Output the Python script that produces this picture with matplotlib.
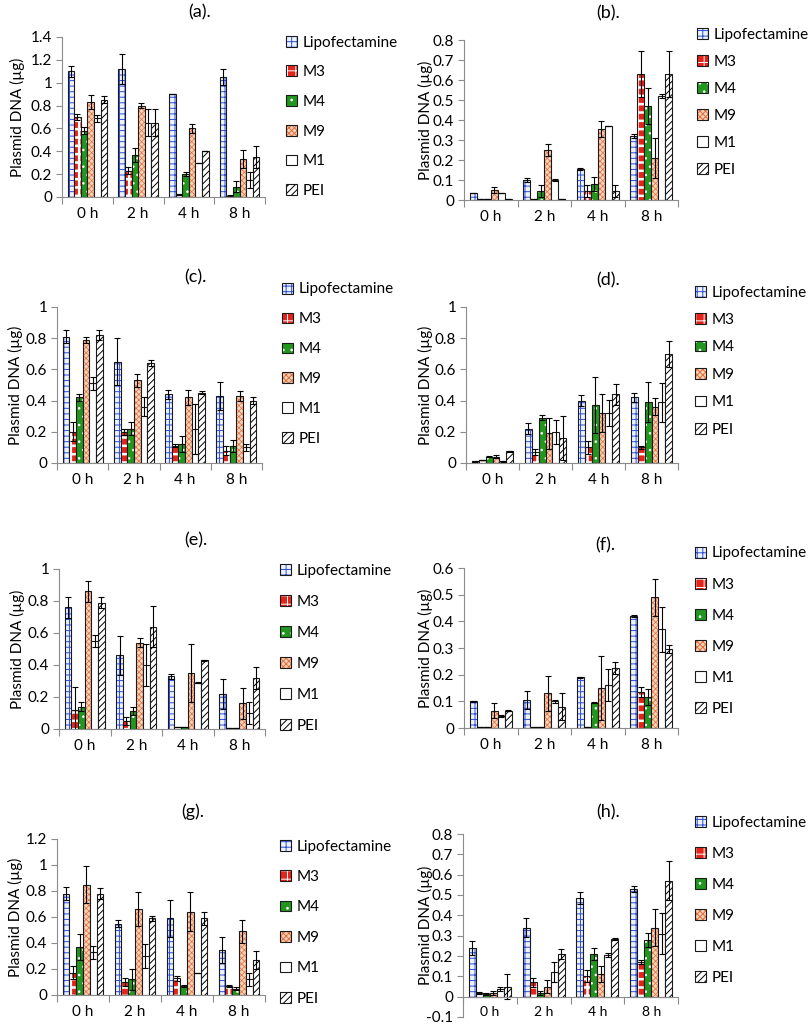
import numpy as np
import matplotlib.pyplot as plt

plt.rcParams['font.family'] = ['Lato', 'DejaVu Sans']
plt.rcParams['hatch.linewidth'] = 0.7

times = ['0 h', '2 h', '4 h', '8 h']
series = ['Lipofectamine', 'M3', 'M4', 'M9', 'M1', 'PEI']

# rows follow `series`, columns follow `times`
a_vals = [[1.10, 1.12, 0.90, 1.05], [0.70, 0.23, 0.02, 0.01], [0.58, 0.37, 0.20, 0.09],
          [0.83, 0.80, 0.60, 0.33], [0.69, 0.65, 0.30, 0.15], [0.85, 0.65, 0.40, 0.35]]
a_err = [[0.05, 0.13, 0.0, 0.07], [0.03, 0.03, 0.005, 0.01], [0.03, 0.06, 0.02, 0.05],
         [0.06, 0.02, 0.04, 0.08], [0.03, 0.12, 0.0, 0.07], [0.03, 0.12, 0.0, 0.10]]

b_vals = [[0.035, 0.10, 0.155, 0.32], [0.005, 0.003, 0.045, 0.63], [0.007, 0.045, 0.08, 0.47],
          [0.05, 0.25, 0.355, 0.21], [0.035, 0.10, 0.37, 0.52], [0.005, 0.003, 0.045, 0.63]]
b_err = [[0.0, 0.008, 0.003, 0.01], [0.0, 0.0, 0.03, 0.115], [0.0, 0.03, 0.035, 0.09],
         [0.015, 0.03, 0.04, 0.10], [0.0, 0.005, 0.002, 0.01], [0.0, 0.0, 0.03, 0.115]]

c_vals = [[0.81, 0.65, 0.44, 0.43], [0.20, 0.20, 0.11, 0.08], [0.42, 0.22, 0.12, 0.11],
          [0.79, 0.53, 0.42, 0.43], [0.51, 0.36, 0.22, 0.10], [0.82, 0.64, 0.45, 0.40]]
c_err = [[0.04, 0.15, 0.03, 0.09], [0.06, 0.02, 0.01, 0.03], [0.02, 0.04, 0.05, 0.04],
         [0.02, 0.04, 0.05, 0.03], [0.04, 0.06, 0.16, 0.02], [0.03, 0.02, 0.01, 0.02]]

d_vals = [[0.01, 0.22, 0.40, 0.42], [0.02, 0.07, 0.10, 0.10], [0.04, 0.29, 0.37, 0.39],
          [0.04, 0.19, 0.32, 0.36], [0.01, 0.20, 0.32, 0.39], [0.075, 0.16, 0.44, 0.70]]
d_err = [[0.003, 0.035, 0.035, 0.03], [0.0, 0.02, 0.04, 0.01], [0.003, 0.015, 0.18, 0.13],
         [0.01, 0.10, 0.12, 0.055], [0.002, 0.075, 0.085, 0.125], [0.005, 0.14, 0.065, 0.085]]

e_vals = [[0.76, 0.46, 0.33, 0.22], [0.12, 0.05, 0.01, 0.005], [0.14, 0.11, 0.01, 0.005],
          [0.86, 0.54, 0.35, 0.16], [0.55, 0.40, 0.29, 0.10], [0.79, 0.64, 0.43, 0.32]]
e_err = [[0.065, 0.12, 0.015, 0.095], [0.14, 0.025, 0.0, 0.0], [0.03, 0.025, 0.0, 0.0],
         [0.065, 0.03, 0.18, 0.095], [0.04, 0.13, 0.003, 0.07], [0.035, 0.13, 0.003, 0.07]]

f_vals = [[0.10, 0.105, 0.19, 0.42], [0.003, 0.003, 0.003, 0.135], [0.003, 0.003, 0.095, 0.115],
          [0.065, 0.13, 0.15, 0.49], [0.045, 0.10, 0.16, 0.37], [0.065, 0.08, 0.225, 0.295]]
f_err = [[0.002, 0.035, 0.002, 0.003], [0.0, 0.0, 0.0, 0.02], [0.0, 0.0, 0.003, 0.03],
         [0.028, 0.065, 0.12, 0.07], [0.003, 0.005, 0.06, 0.085], [0.003, 0.05, 0.022, 0.015]]

g_vals = [[0.78, 0.55, 0.59, 0.35], [0.17, 0.10, 0.13, 0.07], [0.37, 0.12, 0.07, 0.05],
          [0.85, 0.66, 0.64, 0.49], [0.33, 0.30, 0.17, 0.12], [0.78, 0.59, 0.59, 0.27]]
g_err = [[0.05, 0.03, 0.14, 0.10], [0.05, 0.03, 0.02, 0.01], [0.10, 0.08, 0.01, 0.01],
         [0.14, 0.13, 0.15, 0.09], [0.05, 0.09, 0.002, 0.05], [0.04, 0.02, 0.05, 0.07]]

h_vals = [[0.24, 0.34, 0.485, 0.53], [0.02, 0.07, 0.10, 0.17], [0.015, 0.02, 0.21, 0.28],
          [0.02, 0.05, 0.11, 0.34], [0.04, 0.12, 0.205, 0.31], [0.05, 0.21, 0.285, 0.57]]
h_err = [[0.035, 0.045, 0.03, 0.015], [0.005, 0.02, 0.03, 0.01], [0.005, 0.01, 0.03, 0.035],
         [0.01, 0.03, 0.04, 0.09], [0.01, 0.05, 0.008, 0.10], [0.06, 0.025, 0.005, 0.095]]

# face colour, hatch, hatch colour, hatch width for each series
styles = [
    ('#eef2fc', '+++', '#2b4fd8', 0.7),
    ('#e3241b', '++', 'white', 1.8),
    ('#22961e', '..', 'white', 0.6),
    ('#f9d2bb', 'xxxxxx', '#e0703c', 0.5),
    ('white', '', 'white', 0.7),
    ('white', '/////', 'black', 0.7),
]
outline = '#1a1a1a'
axis_grey = '#8c8c8c'

W, H = 810, 1026
fig = plt.figure(figsize=(W / 100, H / 100), dpi=100)

# label, values, errors, ymin, ymax, step, axes box px (x0, x1, y_top, y_bottom),
# title px, legend px (x, first y, spacing), ylabel x px
panels = [
    ('(a).', a_vals, a_err, 0, 1.4, 0.2, (62, 265, 37, 197), (200, 12), (286, 43, 31), 17),
    ('(b).', b_vals, b_err, 0, 0.8, 0.1, (464, 678, 40, 200), (608, 13), (697, 35, 28.4), 425),
    ('(c).', c_vals, c_err, 0, 1.0, 0.2, (57, 262, 307, 463), (195, 277), (282, 290, 31.2), 15),
    ('(d).', d_vals, d_err, 0, 1.0, 0.2, (466, 678, 307, 463), (608, 280), (695, 293, 28.8), 425),
    ('(e).', e_vals, e_err, 0, 1.0, 0.2, (59, 265, 569, 729), (196, 540), (280, 571, 32.4), 17),
    ('(f).', f_vals, f_err, 0, 0.6, 0.1, (464, 678, 568, 728), (605, 545), (695, 554, 32.4), 425),
    ('(g).', g_vals, g_err, 0, 1.2, 0.2, (57, 265, 839, 995), (193, 812), (280, 847, 31.8), 15),
    ('(h).', h_vals, h_err, -0.1, 0.8, 0.1, (463, 678, 834, 1017), (608, 812), (695, 823, 32.4), 425),
]

n = len(series)
bw = 0.78 / n
x = np.arange(len(times))

for title, vals, errs, ymin, ymax, step, box, tpos, lpos, ylx in panels:
    x0, x1, yt, yb = box
    ax = fig.add_axes([x0 / W, 1 - yb / H, (x1 - x0) / W, (yb - yt) / H])
    handles = []
    for j, (v, e) in enumerate(zip(vals, errs)):
        face, hatch, hcol, hlw = styles[j]
        pos = x + (j - (n - 1) / 2) * bw
        fill = ax.bar(pos, v, bw, color=face, edgecolor=hcol, hatch=hatch, linewidth=0)
        for p in fill:
            if hasattr(p, 'set_hatch_linewidth'):
                p.set_hatch_linewidth(hlw)
        edge = ax.bar(pos, v, bw, fill=False, edgecolor=outline, linewidth=0.8)
        ax.errorbar(pos, v, yerr=e, fmt='none', ecolor='black', elinewidth=0.8,
                    capsize=2.2, capthick=0.8)
        handles.append((fill, edge))

    ax.set_xlim(-0.5, len(times) - 0.5)
    ax.set_ylim(ymin, ymax)
    ticks = np.round(np.arange(ymin, ymax + step / 2, step), 2)
    ax.set_yticks(ticks)
    ax.set_yticklabels([f'{t:g}' for t in ticks], fontsize=11)
    ax.set_xticks(np.arange(-0.5, len(times)), minor=False)
    ax.set_xticklabels([])
    ax.set_xticks(x, minor=True)
    ax.set_xticklabels(times, minor=True, fontsize=11)
    ax.tick_params(axis='x', which='major', length=5, color=axis_grey)
    ax.tick_params(axis='x', which='minor', length=0, pad=7)
    ax.tick_params(axis='y', length=4, color=axis_grey, pad=3)
    for s in ['top', 'right']:
        ax.spines[s].set_visible(False)
    for s in ['left', 'bottom']:
        ax.spines[s].set_color(axis_grey)
    if ymin < 0:
        ax.spines['bottom'].set_position(('data', 0))

    fig.text(tpos[0] / W, 1 - tpos[1] / H, title, fontsize=13, ha='center', va='center')
    fig.text(ylx / W, 1 - (yt + yb) / 2 / H, 'Plasmid DNA (\u00b5g)', rotation=90,
             fontsize=11, ha='center', va='center')

    lx, ly, lsp = lpos
    ax.legend(handles, series, loc='upper left', bbox_to_anchor=(lx / W, 1 - (ly - 7.5) / H),
              bbox_transform=fig.transFigure, frameon=False, fontsize=11,
              handlelength=0.7, handleheight=0.7, handletextpad=0.4,
              borderpad=0, borderaxespad=0, labelspacing=(lsp - 15.3) / 15.3)

fig.savefig('out.png', dpi=100)
